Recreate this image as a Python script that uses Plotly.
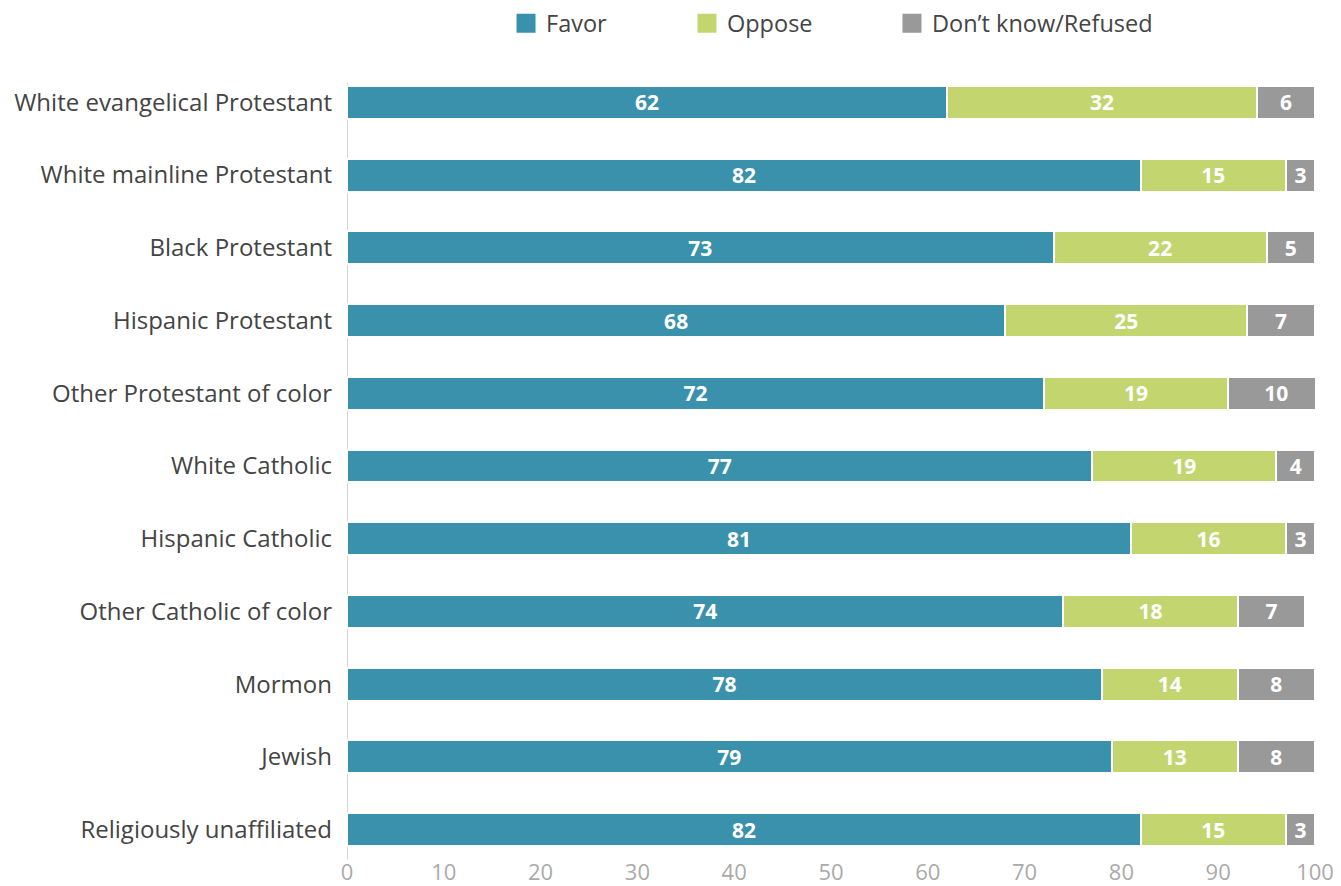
import plotly.graph_objects as go

categories = [
    "White evangelical Protestant",
    "White mainline Protestant",
    "Black Protestant",
    "Hispanic Protestant",
    "Other Protestant of color",
    "White Catholic",
    "Hispanic Catholic",
    "Other Catholic of color",
    "Mormon",
    "Jewish",
    "Religiously unaffiliated",
]
favor = [62, 82, 73, 68, 72, 77, 81, 74, 78, 79, 82]
oppose = [32, 15, 22, 25, 19, 19, 16, 18, 14, 13, 15]
dont_know = [6, 3, 5, 7, 10, 4, 3, 7, 8, 8, 3]
x_ticks = [0, 10, 20, 30, 40, 50, 60, 70, 80, 90, 100]

series = [
    ("Favor", favor, "#3a91ab", "legend", 0.1643),
    ("Oppose", oppose, "#c2d56f", "legend2", 0.3512),
    ("Don\u2019t know/Refused", dont_know, "#999999", "legend3", 0.5630),
]

fig = go.Figure()
for name, vals, color, leg, lx in series:
    fig.add_trace(go.Bar(
        y=categories, x=vals, name=name, orientation="h",
        marker=dict(color=color, line=dict(color="white", width=2)),
        text=vals, texttemplate="%{text}", textposition="inside",
        insidetextanchor="middle", textangle=0, constraintext="none",
        textfont=dict(family="Open Sans", size=21, color="white", weight=700),
        showlegend=False, hoverinfo="x+y+name",
    ))
# legend entries with larger square swatches
for name, vals, color, leg, lx in series:
    fig.add_trace(go.Scatter(
        x=[None], y=[None], mode="markers", name=name,
        marker=dict(symbol="square", size=16, color=color,
                    line=dict(color=color, width=3)),
        legend=leg, showlegend=True, hoverinfo="skip",
    ))

leg_common = dict(orientation="h", yanchor="middle", xanchor="left",
                  font=dict(family="Open Sans", size=23.5, color="#444444"),
                  bgcolor="rgba(0,0,0,0)", itemsizing="trace")
layout_legends = {}
for name, vals, color, leg, lx in series:
    layout_legends[leg] = dict(leg_common, x=lx, y=1.0532)

fig.update_layout(
    barmode="stack",
    bargap=0.547,
    width=1333, height=878,
    margin=dict(l=339, r=26, t=57.6, b=19.6, autoexpand=False),
    paper_bgcolor="white", plot_bgcolor="white",
    showlegend=True,
    font=dict(family="Open Sans"),
    xaxis=dict(range=[0, 100], tickvals=x_ticks, showgrid=False, zeroline=False,
               tickfont=dict(family="Open Sans", size=22, color="#aaaaaa"),
               showline=False, ticks="", automargin=False, ticklabelstandoff=-9),
    yaxis=dict(autorange="reversed", showgrid=False, zeroline=False,
               showline=False,
               ticks="", ticklabelstandoff=14, automargin=False,
               tickfont=dict(family="Open Sans", size=24, color="#444444")),
    shapes=[dict(type="line", xref="x", yref="y", x0=0, x1=0, y0=-0.27, y1=10.41,
                 line=dict(color="#d5d5d5", width=2), layer="below")],
    **layout_legends,
)

fig.write_html("out.html")
